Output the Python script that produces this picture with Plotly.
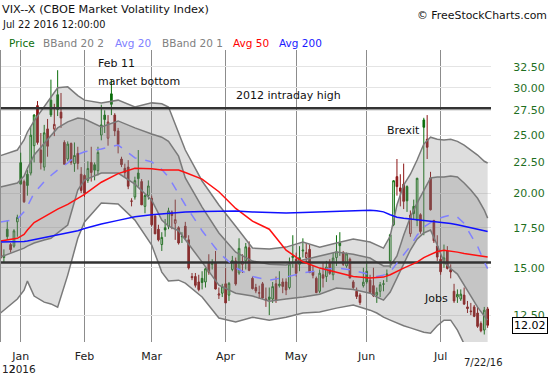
import math
import pandas as pd
import plotly.graph_objects as go

# ---------------- data ----------------
holidays = ["2015-12-25", "2016-01-01", "2016-01-18", "2016-02-15",
            "2016-03-25", "2016-05-30", "2016-07-04"]
dates = [d.strftime("%Y-%m-%d") for d in pd.bdate_range("2015-12-23", "2016-07-22")
         if d.strftime("%Y-%m-%d") not in holidays]

opens = [16.5, 15.6, 17.4, 16.4, 16.3, 17.9,
         22.48, 20.9, 21.5, 21.6, 24.0, 28.0, 23.6, 22.1, 25.6, 28.6, 25.6, 29.2, 27.3, 24.3,
         22.8, 24.2, 22.4, 23.3, 21.5,
         21.4, 21.0, 22.5, 22.3, 21.8, 25.0, 27.0, 24.7, 29.3, 27.0, 25.4, 22.8, 22.0, 22.1,
         19.4, 19.7, 21.6, 20.9, 19.0, 19.8,
         19.6, 18.3, 17.4, 16.4, 17.5, 17.6, 18.6, 17.8, 17.5, 16.9, 17.6, 16.7, 14.5, 14.5,
         14.2, 14.4, 14.2, 15.3, 15.2, 15.3, 13.5, 13.6,
         14.1, 13.5, 14.9, 15.4, 14.7, 15.2, 15.4, 16.2, 14.4, 13.9, 13.6, 14.1, 13.3, 13.4,
         13.3, 14.1, 14.0, 14.2, 14.2, 13.9, 15.6,
         15.5, 15.2, 16.0, 15.6, 16.1, 14.8, 14.4, 13.7, 14.6, 14.5, 15.3, 14.6, 15.6, 16.5,
         15.9, 15.1, 15.5, 14.2, 13.7, 13.5, 14.0,
         14.8, 14.3, 14.0, 13.5, 13.7, 14.1, 14.6, 15.4, 17.7, 21.3, 20.4, 20.7, 20.5, 17.1,
         19.0, 18.0, 18.4, 26.5, 24.6, 21.2, 18.0, 16.3,
         15.5, 15.3, 16.0, 14.9, 13.7, 13.4, 13.3, 13.5, 12.9, 12.7, 12.9, 12.6, 12.1, 11.8, 12.8]
highs = [16.6, 16.1, 18.0, 16.5, 17.4, 18.4,
         23.36, 21.06, 21.86, 25.86, 27.08, 28.5, 25.2, 26.0, 26.6, 30.95, 28.2, 32.09, 29.4, 24.5,
         24.4, 24.3, 24.3, 23.9, 22.1,
         21.5, 22.6, 23.9, 22.5, 23.9, 28.1, 27.5, 27.0, 30.9, 27.2, 25.7, 23.0, 22.4, 22.7,
         19.6, 21.3, 23.6, 21.1, 19.9, 21.0,
         19.8, 18.4, 17.7, 17.2, 18.1, 18.9, 18.7, 19.5, 17.6, 17.2, 17.9, 17.0, 14.7, 14.7,
         14.6, 14.8, 15.0, 15.8, 15.5, 16.0, 13.9, 14.1,
         15.0, 14.2, 15.7, 15.6, 16.8, 15.8, 16.5, 16.6, 14.5, 14.1, 14.0, 14.2, 13.9, 13.9,
         14.2, 14.5, 14.8, 14.4, 14.4, 15.6, 17.0,
         15.9, 16.3, 16.8, 16.5, 16.4, 15.1, 14.5, 14.9, 15.3, 15.4, 15.5, 15.9, 17.0, 17.2,
         16.0, 15.9, 15.6, 14.3, 13.9, 13.6, 15.0,
         15.4, 14.6, 15.0, 13.9, 14.2, 14.3, 14.9, 17.1, 21.0, 22.8, 21.5, 22.4, 20.6, 18.7,
         19.5, 21.2, 18.5, 26.72, 27.0, 21.7, 18.0, 17.0,
         15.8, 16.4, 16.3, 15.2, 14.1, 13.8, 13.8, 13.9, 13.2, 13.1, 13.0, 12.9, 12.2, 12.9, 12.9]
lows = [15.5, 15.3, 16.7, 15.9, 16.2, 16.9,
        20.67, 19.25, 19.8, 21.4, 22.5, 24.1, 21.9, 21.8, 23.0, 26.8, 24.9, 26.9, 25.7, 22.3,
        22.6, 22.3, 21.7, 21.9, 20.0,
        19.7, 20.8, 20.9, 21.0, 21.4, 24.5, 25.2, 24.0, 27.0, 24.9, 23.3, 22.1, 21.2, 20.3,
        19.0, 19.5, 20.5, 19.1, 18.5, 19.5,
        17.6, 17.1, 16.6, 16.0, 16.9, 17.4, 17.4, 16.7, 16.4, 16.5, 16.7, 14.9, 14.3, 13.9,
        13.7, 13.8, 13.9, 14.6, 14.9, 13.8, 13.3, 13.4,
        13.1, 13.2, 14.8, 14.0, 14.6, 14.7, 14.9, 14.8, 13.8, 13.6, 13.3, 13.3, 12.9, 12.5,
        13.1, 13.1, 13.9, 13.6, 13.5, 13.8, 15.0,
        14.5, 14.8, 15.6, 15.3, 14.7, 14.4, 13.6, 13.6, 13.9, 14.2, 14.6, 14.3, 15.1, 15.7,
        15.1, 15.0, 14.4, 13.8, 13.3, 13.0, 13.9,
        14.1, 13.6, 13.4, 13.1, 13.4, 13.7, 14.2, 15.0, 17.6, 19.8, 19.0, 18.8, 18.6, 16.9,
        18.1, 17.6, 17.1, 17.0, 22.8, 18.7, 16.5, 15.4,
        14.6, 15.0, 14.9, 14.4, 13.1, 13.1, 13.2, 13.0, 12.6, 12.5, 12.4, 11.9, 11.7, 11.6, 11.9]
closes = [15.57, 15.74, 16.91, 16.08, 17.29, 18.21,
          20.70, 19.34, 20.59, 24.99, 27.01, 24.30, 22.47, 25.22, 23.95, 27.02, 26.05, 27.59, 26.69, 22.34,
          24.15, 22.50, 23.11, 22.42, 20.20,
          19.98, 21.98, 21.65, 21.84, 23.38, 26.00, 26.54, 26.29, 28.14, 25.40, 24.11, 22.31, 21.64, 20.53,
          19.38, 20.98, 21.14, 19.11, 19.81, 20.55,
          17.70, 17.09, 16.70, 16.86, 17.35, 18.67, 18.34, 18.05, 16.50, 16.92, 16.84, 14.99, 14.44, 14.02,
          13.79, 14.17, 14.94, 14.74, 15.24, 13.82, 13.56, 13.95,
          13.10, 14.12, 15.42, 14.09, 16.16, 15.36, 16.26, 14.85, 13.84, 13.72, 13.62, 13.35, 13.24, 13.28,
          13.95, 13.22, 14.08, 13.96, 13.77, 15.22, 15.70,
          14.68, 15.60, 16.05, 15.91, 14.72, 14.57, 13.63, 14.69, 14.41, 15.04, 14.68, 15.57, 15.95, 16.33,
          15.20, 15.82, 14.42, 13.90, 13.43, 13.12, 14.19,
          14.20, 13.63, 13.47, 13.65, 14.05, 14.08, 14.64, 17.03, 20.97, 20.50, 20.14, 19.37, 19.41, 18.37,
          18.48, 21.17, 17.25, 25.76, 23.85, 18.75, 16.64, 15.63,
          14.77, 15.58, 14.96, 14.76, 13.20, 13.54, 13.55, 13.04, 12.82, 12.67, 12.44, 11.97, 11.77, 12.74, 12.02]

ind_dates = ["2015-12-23", "2015-12-31", "2016-01-05", "2016-01-06", "2016-01-08", "2016-01-13",
             "2016-01-15", "2016-01-20", "2016-01-25", "2016-01-28", "2016-02-01", "2016-02-08",
             "2016-02-16", "2016-02-23", "2016-03-01", "2016-03-04", "2016-03-08", "2016-03-11",
             "2016-03-15", "2016-03-22", "2016-03-30", "2016-04-06", "2016-04-13", "2016-04-20",
             "2016-04-27", "2016-05-04", "2016-05-11", "2016-05-18", "2016-05-25", "2016-06-02",
             "2016-06-06", "2016-06-08", "2016-06-10", "2016-06-14", "2016-06-16", "2016-06-20",
             "2016-06-22", "2016-06-24", "2016-06-28", "2016-06-30", "2016-07-05", "2016-07-07",
             "2016-07-11", "2016-07-13", "2016-07-15", "2016-07-19", "2016-07-21", "2016-07-22"]
avg200 = [16.56, 16.56, 16.6, 16.63, 16.72, 16.82, 16.9, 17.0, 17.15, 17.3, 17.45, 17.75, 18.0, 18.25,
          18.4, 18.47, 18.52, 18.58, 18.6, 18.62, 18.64, 18.66, 18.6, 18.55, 18.52, 18.55, 18.6, 18.64,
          18.68, 18.72, 18.68, 18.6, 18.4, 18.22, 18.15, 18.1, 18.04, 18.0, 17.95, 17.9, 17.85, 17.78,
          17.7, 17.6, 17.52, 17.42, 17.3, 17.24]
avg50 = [16.62, 16.8, 17.05, 17.35, 17.85, 18.25, 18.52, 18.8, 19.15, 19.6, 19.9, 20.85, 21.55, 22.0,
         21.95, 21.85, 21.85, 21.85, 21.65, 21.1, 20.1, 18.85, 17.95, 17.4, 16.05, 15.35, 14.98, 14.75,
         14.5, 14.42, 14.45, 14.47, 14.6, 14.8, 14.98, 15.15, 15.33, 15.6, 15.8, 15.97, 16.05, 16.0,
         15.93, 15.85, 15.78, 15.7, 15.65, 15.63]
avg20 = [17.89, 18.1, 18.6, 19.0, 20.0, 20.9, 21.4, 21.85, 22.45, 23.2, 23.45, 23.7, 24.06, 22.9,
         22.55, 21.9, 21.27, 19.9, 19.1, 17.3, 15.9, 15.0, 14.5, 14.3, 14.47, 14.7, 14.87, 15.0,
         14.85, 14.58, 14.5, 14.58, 14.75, 15.27, 15.8, 16.3, 17.0, 17.55, 17.85, 18.1, 18.25, 18.37,
         18.23, 17.8, 17.0, 16.3, 15.33, 14.95]
bb1_upper = [20.47, 20.79, 21.35, 22.0, 23.15, 24.25, 24.9, 25.7, 26.3, 26.7, 26.6, 25.79, 26.4, 25.7,
             25.1, 24.8, 24.4, 23.05, 21.2, 18.95, 17.15, 15.93, 15.39, 15.21, 15.16, 15.45, 15.69,
             15.93, 15.8, 15.57, 15.33, 15.1, 15.1, 15.7, 17.0, 18.23, 19.24, 20.23, 21.2, 21.27, 21.27,
             21.35, 21.27, 20.79, 20.23, 19.6, 18.73, 18.16]
bb1_lower = [15.63, 16.0, 16.18, 16.3, 16.5, 16.69, 16.8, 17.15, 17.68, 20.23, 21.03, 21.6, 21.6, 20.7,
             19.46, 18.02, 17.6, 17.3, 16.69, 15.33, 14.03, 13.6, 13.45, 13.19, 13.3, 13.4, 13.55,
             13.87, 13.8, 13.6, 13.4, 13.24, 13.66, 14.4, 15.21, 16.06, 16.75, 17.15, 17.34, 16.37,
             15.33, 14.95, 14.64, 14.03, 13.45, 12.89, 12.45, 12.26]
bb2_upper = [23.1, 23.6, 24.53, 25.3, 26.4, 27.85, 28.9, 30.0, 30.1, 29.1, 28.6, 28.3, 28.6, 27.85,
             28.3, 28.2, 27.85, 25.3, 23.6, 20.95, 19.1, 17.6, 16.18, 16.12, 16.24, 16.56, 16.24, 16.5,
             16.75, 16.56, 16.37, 16.18, 16.95, 19.1, 20.63, 21.5, 22.71, 24.15, 24.8, 24.6, 24.53, 24.6,
             24.4, 24.06, 23.6, 23.15, 22.6, 22.45]
bb2_lower = [12.6, 13.3, 13.76, 14.25, 13.45, 13.14, 13.05, 12.89, 14.58, 16.8, 17.89, 19.24, 19.17,
             18.02, 16.37, 14.75, 14.25, 14.3, 14.14, 13.4, 12.36, 12.17, 12.4, 12.26, 12.4, 12.6, 12.65,
             12.84, 12.99, 12.74, 12.6, 12.4, 12.26, 12.12, 12.0, 11.9, 11.8, 11.7, 11.66, 12.0, 12.26,
             12.26, 11.8, 11.14, 10.6, 10.2, 9.9, 9.8]

month_starts = ["2016-01-04", "2016-02-01", "2016-03-01", "2016-04-01", "2016-05-02", "2016-06-01", "2016-07-01"]
month_labels = ["Jan", "Feb", "Mar", "Apr", "May", "Jun", "Jul"]
ytick_vals = [12.5, 15.0, 17.5, 20.0, 22.5, 25.0, 27.5, 30.0, 32.5]
ytick_text = ["12.50", "15.00", "17.50", "20.00", "22.50", "25.00", "27.50", "30.00", "32.50"]
ref_levels = [27.73, 15.3]
last_label = "12.02"

# ---------------- figure ----------------
pos = {d: i for i, d in enumerate(dates)}
xi = list(range(len(dates)))
ix = [pos[d] for d in ind_dates]

GREEN = "#0a6e0a"
RED = "#8c1414"
BAND_LINE = "#7a7a7a"
FILL = "rgba(128,128,128,0.26)"

fig = go.Figure()

# outer band
fig.add_trace(go.Scatter(x=ix, y=bb2_upper, mode="lines", line=dict(color=BAND_LINE, width=1.5),
                         hoverinfo="skip"))
fig.add_trace(go.Scatter(x=ix, y=bb2_lower, mode="lines", line=dict(color=BAND_LINE, width=1.5),
                         fill="tonexty", fillcolor=FILL, hoverinfo="skip"))
# inner band
fig.add_trace(go.Scatter(x=ix, y=bb1_upper, mode="lines", line=dict(color=BAND_LINE, width=1.5),
                         hoverinfo="skip"))
fig.add_trace(go.Scatter(x=ix, y=bb1_lower, mode="lines", line=dict(color=BAND_LINE, width=1.5),
                         fill="tonexty", fillcolor=FILL, hoverinfo="skip"))
# reference levels
for lv in ref_levels:
    fig.add_trace(go.Scatter(x=[-2, len(dates) + 2], y=[lv, lv], mode="lines",
                             line=dict(color="#333333", width=2.5), hoverinfo="skip"))
# averages
fig.add_trace(go.Scatter(x=ix, y=avg20, mode="lines", line=dict(color="#8080ff", width=1.5, dash="dash"),
                         hoverinfo="skip"))
fig.add_trace(go.Scatter(x=ix, y=avg50, mode="lines", line=dict(color="#ff1010", width=1.5),
                         hoverinfo="skip"))
fig.add_trace(go.Scatter(x=ix, y=avg200, mode="lines", line=dict(color="#1010ff", width=1.5),
                         hoverinfo="skip"))

# candles: colour by change vs previous close, hollow when close > open
green_ids = [i for i in xi if i > 0 and closes[i] >= closes[i - 1]]
red_ids = [i for i in xi if i not in green_ids]


def candle(ids, color):
    return go.Candlestick(
        x=ids, open=[opens[i] for i in ids], high=[highs[i] for i in ids],
        low=[lows[i] for i in ids], close=[closes[i] for i in ids],
        increasing=dict(line=dict(color=color, width=1), fillcolor="white"),
        decreasing=dict(line=dict(color=color, width=1), fillcolor=color),
        whiskerwidth=0, hoverinfo="skip")


fig.add_trace(candle(green_ids, GREEN))
fig.add_trace(candle(red_ids, RED))

ymin, ymax = math.log10(11.27), math.log10(34.69)
x0, x1 = -0.16, 146.0
PW, PH = 491.0, 292.0
TOP, BOT = 50.0, 342.0


def px(xp):
    return xp / PW


def py(yp):
    return (BOT - yp) / PH


FONT = "DejaVu Sans"
ann = []


def text(t, xp, yp, size=11, color="#111", anchor="left"):
    ann.append(dict(text=t, x=px(xp), y=py(yp), xref="paper", yref="paper", showarrow=False,
                    xanchor=anchor, yanchor="middle", font=dict(family=FONT, size=size, color=color)))


text("VIX--X (CBOE Market Volatility Index)", 0, 10, 11.3)
text("Jul 22 2016 12:00:00", 0, 25, 9.8)
text("© FreeStockCharts.com", 549, 16, 10.9, anchor="right")
text("Price", 7, 43, 10.5, "#0a6e0a")
text("BBand 20 2", 41, 43, 10.5, "#808080")
text("Avg 20", 113, 43, 10.5, "#8080ff")
text("BBand 20 1", 160, 43, 10.5, "#808080")
text("Avg 50", 231, 43, 10.5, "#ff0000")
text("Avg 200", 277, 43, 10.5, "#1a1aff")
text("Feb 11", 96, 64, 11)
text("market bottom", 96, 81, 11)
text("2012 intraday high", 234, 96, 11)
text("Brexit", 385, 130, 11)
text("Jobs", 422, 298, 11)
text("12", 0, 369, 10.5, "#222")
text("2016", 7, 369, 10.5, "#222")
text("7/22/16", 483, 362, 10, "#222", anchor="center")
ann.append(dict(text=last_label, x=px(530), xref="paper", yref="paper",
                y=(math.log10(closes[-1]) - ymin) / (ymax - ymin), showarrow=False,
                xanchor="center", yanchor="middle", bordercolor="#000", borderwidth=1, borderpad=1,
                bgcolor="white", font=dict(family=FONT, size=11, color="#000")))

fig.update_layout(
    width=550, height=375, margin=dict(l=0, r=59, t=50, b=33, autoexpand=False),
    paper_bgcolor="white", plot_bgcolor="white", showlegend=False,
    font=dict(family=FONT, size=11, color="#222"), annotations=ann,
    shapes=[dict(type="line", xref="paper", yref="paper", x0=0.001, x1=0.001, y0=0, y1=1,
                 line=dict(color="#8c8c8c", width=1))],
)
fig.update_xaxes(range=[x0, x1], tickvals=[pos[d] for d in month_starts], ticktext=month_labels,
                 showgrid=True, gridcolor="#8c8c8c", gridwidth=1, zeroline=False, showline=False,
                 ticks="outside", ticklen=4, tickcolor="rgba(0,0,0,0)",
                 tickfont=dict(family=FONT, size=11, color="#222"), rangeslider_visible=False)
fig.update_yaxes(type="log", range=[ymin, ymax], side="right", tickvals=ytick_vals, ticktext=ytick_text,
                 showgrid=True, gridcolor="#e4e4e4", zeroline=False, showline=False,
                 ticks="outside", ticklen=19, tickcolor="rgba(0,0,0,0)",
                 tickfont=dict(family=FONT, size=11, color="#1f6f1f"))

fig.write_html("out.html", config={"displayModeBar": False},
               post_script="document.body.style.margin='0';document.body.style.overflow='hidden';")
